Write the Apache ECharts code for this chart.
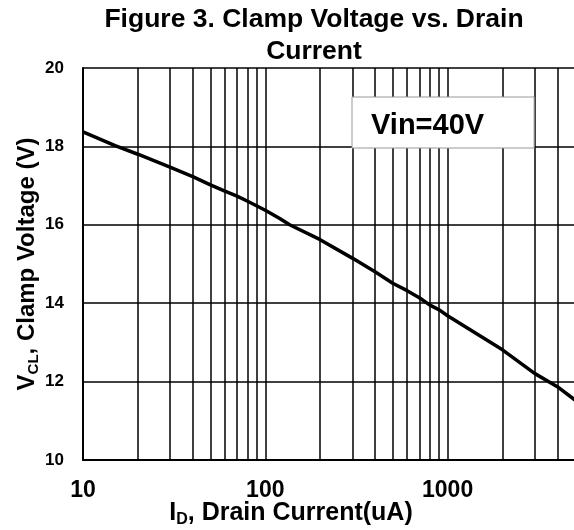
<!DOCTYPE html>
<html>
<head>
<meta charset="utf-8">
<script src="https://cdn.jsdelivr.net/npm/echarts@6/dist/echarts.min.js"></script>
<style>
  html, body { margin: 0; padding: 0; background: #fff; }
  #chart { width: 574px; height: 530px; }
</style>
</head>
<body>
<div id="chart"></div>
<script>
// drain current (uA) and clamp voltage (V)
const drainCurrent = [10, 15, 20, 30, 40, 50, 60, 70, 80, 90, 100, 120, 136, 200, 300, 400, 500, 600, 700, 800, 900, 1000, 2000, 3000, 4000, 5000];
const clampVoltage = [18.37, 18.02, 17.80, 17.47, 17.23, 17.02, 16.86, 16.73, 16.60, 16.48, 16.37, 16.16, 16.0, 15.62, 15.15, 14.80, 14.51, 14.32, 14.14, 13.95, 13.83, 13.68, 12.81, 12.21, 11.87, 11.53];
// log grid lines between the decades
const minorGridCurrents = [20, 30, 40, 50, 60, 70, 80, 90, 200, 300, 400, 500, 600, 700, 800, 900, 2000, 3000, 4000];
const seriesName = 'Vin=40V';

const font = 'Liberation Sans, Arial, sans-serif';

const chart = echarts.init(document.getElementById('chart'));
chart.setOption({
  backgroundColor: '#fff',
  animation: false,
  title: {
    text: 'Figure 3. Clamp Voltage vs. Drain\nCurrent',
    left: 314,
    top: 4,
    textAlign: 'center',
    padding: 0,
    textStyle: { fontFamily: font, fontSize: 26.5, fontWeight: 'bold', lineHeight: 32, color: '#000' }
  },
  legend: {
    data: [seriesName],
    left: 352,
    top: 97,
    zlevel: 1,
    icon: 'none',
    itemWidth: 0,
    itemHeight: 10,
    selectedMode: false,
    padding: [14, 50, 8, 14],
    backgroundColor: '#fff',
    borderColor: '#999',
    borderWidth: 1,
    textStyle: { fontFamily: font, fontSize: 29, fontWeight: 'bold', color: '#000', lineHeight: 28 }
  },
  grid: { left: 83, right: -1, top: 68, bottom: 70, containLabel: false, outerBoundsMode: 'none' },
  xAxis: {
    type: 'log',
    logBase: 10,
    min: 10,
    max: 5000,
    name: '{m|I}{s|D}{m|, Drain Current(uA)}',
    nameLocation: 'middle',
    nameGap: 39,
    nameMoveOverlap: false,
    nameTextStyle: {
      padding: [0, 76, 0, 0],
      rich: {
        m: { fontFamily: font, fontSize: 25, fontWeight: 'bold', color: '#000' },
        s: { fontFamily: font, fontSize: 16, fontWeight: 'bold', color: '#000', padding: [13, 0, 0, 0] }
      }
    },
    axisLine: { lineStyle: { color: '#000', width: 2 } },
    axisTick: { show: false },
    axisLabel: {
      margin: 19,
      showMaxLabel: false,
      fontFamily: font, fontSize: 23, fontWeight: 'bold', color: '#000',
      formatter: v => String(Math.round(v))
    },
    splitLine: { show: true, lineStyle: { color: '#000', width: 1.5 } }
  },
  yAxis: {
    type: 'value',
    min: 10,
    max: 20,
    interval: 2,
    name: '{m|V}{s|CL}{m|, Clamp Voltage (V)}',
    nameLocation: 'middle',
    nameGap: 42,
    nameMoveOverlap: false,
    nameTextStyle: {
      rich: {
        m: { fontFamily: font, fontSize: 24, fontWeight: 'bold', color: '#000' },
        s: { fontFamily: font, fontSize: 15, fontWeight: 'bold', color: '#000', padding: [12, 0, 0, 0] }
      }
    },
    axisLine: { show: true, lineStyle: { color: '#000', width: 2 } },
    axisTick: { show: false },
    axisLabel: { margin: 19, fontFamily: font, fontSize: 17, fontWeight: 'bold', color: '#000' },
    splitLine: { show: true, lineStyle: { color: '#000', width: 1.5 } }
  },
  series: [{
    name: seriesName,
    type: 'line',
    data: drainCurrent.map((c, i) => [c, clampVoltage[i]]),
    showSymbol: false,
    lineStyle: { color: '#000', width: 3.5 },
    itemStyle: { color: '#000' },
    z: 3,
    markLine: {
      silent: true,
      symbol: 'none',
      label: { show: false },
      lineStyle: { color: '#000', width: 1.5, type: 'solid' },
      data: minorGridCurrents.map(v => ({ xAxis: v }))
    }
  }]
});
</script>
</body>
</html>
